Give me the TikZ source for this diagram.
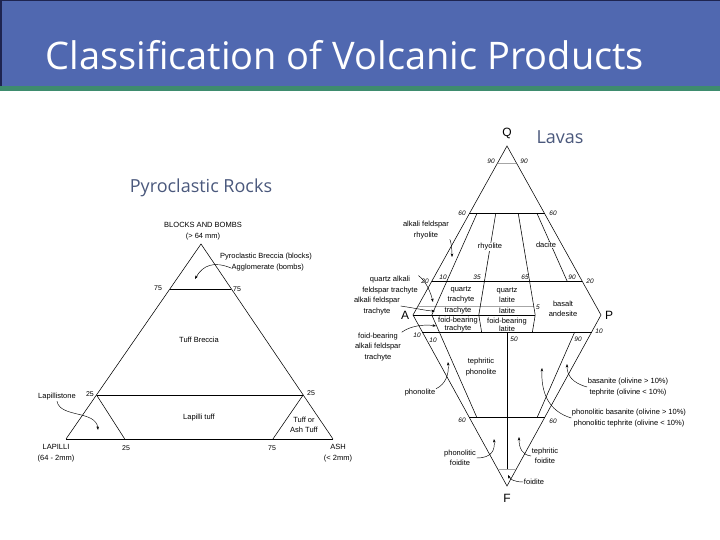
\documentclass[tikz,border=0pt]{standalone}
\usepackage{fontspec}
\setmainfont{Liberation Sans}
\newfontfamily\headfont{Open Sans}
\usetikzlibrary{arrows.meta,calc}

\definecolor{headblue}{RGB}{80,104,176}
\definecolor{headnavy}{RGB}{30,36,80}
\definecolor{headgreen}{RGB}{62,140,110}
\definecolor{subblue}{RGB}{74,88,124}

\tikzset{
    fieldlbl/.style={font=\fontsize{7.5}{10.5}\selectfont, align=center, inner sep=0.5pt},
    tightlbl/.style={fieldlbl, font=\fontsize{7.5}{6.5}\selectfont},
    pyrolbl/.style={font=\fontsize{7.5}{10.5}\selectfont, align=center, inner sep=0.5pt},
    grade/.style={font=\fontsize{6.5}{7}\selectfont\itshape, inner sep=0.5pt},
    pgrade/.style={font=\fontsize{7}{7}\selectfont, inner sep=0.5pt},
    apexlbl/.style={font=\fontsize{12}{12}\selectfont, inner sep=0pt},
    heading/.style={font=\headfont\fontsize{18}{18}\selectfont, text=subblue},
    rim/.style={line width=0.55pt},
    faint/.style={line width=0.45pt, black!35},
    callout/.style={-{Stealth[length=3.5pt,width=2.6pt]}, line width=0.45pt}
}

\begin{document}
\begin{tikzpicture}[x=1pt,y=-1pt]
\useasboundingbox (0,0) rectangle (720,540);

% header bar
\fill[headblue] (0,0) rectangle (720,86);
\fill[headgreen] (0,86) rectangle (720,91);
\draw[headnavy, line width=1.5pt] (0.75,86) -- (0.75,0.75) -- (720,0.75);
\node[anchor=west, text=white, font=\headfont\fontsize{38}{38}\selectfont] (title) at (42,55) {Classification of Volcanic Products};

\node[heading] (lavas) at (560,137) {Lavas};
\node[heading] (pyro) at (201,188) {Pyroclastic Rocks};

% pyroclastic triangle
\coordinate (BB) at (201,244);
\coordinate (LP) at (66,439);
\coordinate (AS) at (333,439);
\coordinate (l75) at ($(LP)!.77!(BB)$);
\coordinate (r75) at ($(AS)!.77!(BB)$);
\coordinate (l25) at ($(LP)!.226!(BB)$);
\coordinate (r25) at ($(AS)!.226!(BB)$);
\draw[rim] (LP) -- (BB) -- (AS);
\draw[line width=1pt] (LP) -- (AS);
\draw[rim] (l75) -- (r75);
\draw[rim] (l25) -- (r25);
\draw[rim] (l25) -- ($(LP)!.22!(AS)$);
\draw[rim] (r25) -- ($(LP)!.775!(AS)$);

\node[pgrade] (n75l) at (158,288) {75};
\node[pgrade] (n75r) at (237,289) {75};
\node[pgrade] (n25l) at (90,394) {25};
\node[pgrade] (n25r) at (311,393) {25};
\node[pgrade] (n25b) at (126,448) {25};
\node[pgrade] (n75b) at (272,448) {75};

\node[pyrolbl] (bnb) at (203,231) {BLOCKS AND BOMBS\\(> 64 mm)};
\node[pyrolbl] (pbr) at (266,257) {Pyroclastic Breccia (blocks)};
\node[pyrolbl, anchor=west] (agg) at (231,268) {Agglomerate (bombs)};
\node[pyrolbl] (tbr) at (199,340) {Tuff Breccia};
\node[pyrolbl] (ltf) at (199,418) {Lapilli tuff};
\node[pyrolbl] (taf) at (304,425) {Tuff or\\Ash Tuff};
\node[pyrolbl] (lst) at (57,397) {Lapillistone};
\node[pyrolbl] (lap) at (56,453) {LAPILLI\\(64 - 2mm)};
\node[pyrolbl] (ash) at (338,453) {ASH\\(< 2mm)};

\coordinate (aggtip) at (195,279);
\coordinate (lsttip) at (98,430);
\draw[callout] (agg.west) .. controls (214,261) and (203,265) .. (aggtip);
\draw[callout] (lst.south) .. controls (60,418) and (96,410) .. (lsttip);

% QAPF diamond
\coordinate (Q) at (507,146);
\coordinate (A) at (413,315);
\coordinate (P) at (601,315);
\coordinate (F) at (507,486);
\coordinate (r10) at ($(A)!.10!(P)$);
\coordinate (r35) at ($(A)!.35!(P)$);
\coordinate (r50) at ($(A)!.50!(P)$);
\coordinate (r65) at ($(A)!.65!(P)$);
\coordinate (r90) at ($(A)!.90!(P)$);

\draw[rim] (A) -- (Q) -- (P) -- (F) -- cycle;
\draw[faint] ($(A)!.9!(Q)$) -- ($(P)!.9!(Q)$);
\draw[rim] ($(A)!.6!(Q)$) -- ($(P)!.6!(Q)$);
\draw[rim] ($(A)!.2!(Q)$) -- ($(P)!.2!(Q)$);
\draw[faint] ($(A)!.05!(Q)$) -- ($(r65)!.05!(Q)$);
\draw[rim] (A) -- (r65);
\draw[rim] ($(A)!.1!(F)$) -- ($(P)!.1!(F)$);
\draw[rim] ($(A)!.6!(F)$) -- ($(P)!.6!(F)$);
\draw[faint] ($(A)!.9!(F)$) -- ($(P)!.9!(F)$);

\draw[rim] ($(r10)!.6!(Q)$) -- (r10) -- ($(r10)!.6!(F)$);
\draw[rim] ($(r35)!.6!(Q)$) -- (r35) -- ($(r35)!.1!(F)$);
\draw[rim] ($(r65)!.6!(Q)$) -- (r65) -- ($(r65)!.1!(F)$);
\draw[rim] ($(r90)!.6!(Q)$) -- ($(r90)!.2!(Q)$);
\draw[rim] ($(r90)!.1!(F)$) -- ($(r90)!.6!(F)$);
\draw[rim] ($(r50)!.1!(F)$) -- ($(r50)!.9!(F)$);

\node[apexlbl] (qlbl) at (507,133) {Q};
\node[apexlbl] (albl) at (405,315) {A};
\node[apexlbl] (plbl) at (609,315) {P};
\node[apexlbl] (flbl) at (507,498) {F};

\node[grade] (g90l) at (491,161) {90};
\node[grade] (g90r) at (524,161) {90};
\node[grade] (g60l) at (462,213) {60};
\node[grade] (g60r) at (553,213) {60};
\node[grade] (g20l) at (425,281) {20};
\node[grade] (g20r) at (590,281) {20};
\node[grade] (g10a) at (443,277) {10};
\node[grade] (g35) at (477,277) {35};
\node[grade] (g65) at (525,277) {65};
\node[grade] (g90a) at (572,277) {90};
\node[grade] (g5) at (538,307) {5};
\node[grade] (g10l) at (417,335) {10};
\node[grade] (g10b) at (433,340) {10};
\node[grade] (g50) at (514,339) {50};
\node[grade] (g90b) at (578,339) {90};
\node[grade] (g10r) at (599,331) {10};
\node[grade] (g60fl) at (462,420) {60};
\node[grade] (g60fr) at (553,421) {60};

\node[fieldlbl, fill=white] (rhy) at (490,247) {rhyolite};
\node[fieldlbl, fill=white] (dac) at (546,245) {dacite};
\node[fieldlbl] (qtr) at (461,295) {quartz\\trachyte};
\node[fieldlbl] (qlt) at (507,295) {quartz\\latite};
\node[fieldlbl] (tra) at (458,311) {trachyte};
\node[fieldlbl] (lat) at (507,311) {latite};
\node[tightlbl] (ftr) at (458,325) {foid-bearing\\trachyte};
\node[tightlbl] (flt) at (507,325) {foid-bearing\\latite};
\node[fieldlbl] (bas) at (563,309) {basalt\\andesite};
\node[fieldlbl] (tph) at (481,367) {tephritic\\phonolite};
\node[fieldlbl] (pho) at (420,393) {phonolite};
\node[fieldlbl] (bst) at (628,387) {basanite (olivine > 10\%)\\tephrite (olivine < 10\%)};
\node[fieldlbl] (pbs) at (629,418) {phonolitic basanite (olivine > 10\%)\\phonolitic tephrite (olivine < 10\%)};
\node[fieldlbl] (tfo) at (545,456) {tephritic\\foidite};
\node[fieldlbl] (pfo) at (460,458) {phonolitic\\foidite};
\node[fieldlbl] (foi) at (534,482) {foidite};
\node[fieldlbl] (afr) at (426,230) {alkali feldspar\\rhyolite};
\node[fieldlbl] (qaf) at (390,285) {quartz alkali\\feldspar trachyte};
\node[fieldlbl] (aft) at (377,306) {alkali feldspar\\trachyte};
\node[fieldlbl] (fat) at (378,347) {foid-bearing\\alkali feldspar\\trachyte};

\coordinate (afrtip) at (452,257);
\coordinate (qaftip) at (433,302);
\coordinate (afttip) at (435,311);
\coordinate (fattip) at (436,326);
\coordinate (photip) at (448,362);
\coordinate (bsttip) at (567,364);
\coordinate (pbstip) at (542,368);
\coordinate (pfotip) at (494,439);
\coordinate (tfotip) at (519,437);
\coordinate (foitip) at (508,475);
\draw[callout] (afr.south east) .. controls (450,238) and (452,246) .. (afrtip);
\draw[callout] (qaf.north east) .. controls (427,282) and (431,294) .. (qaftip);
\draw[callout] (aft.east) .. controls (420,309) and (428,311) .. (afttip);
\draw[callout] (fat.north east) .. controls (410,326) and (424,324) .. (fattip);
\draw[callout] (pho.north east) .. controls (446,384) and (449,374) .. (photip);
\draw[callout] (bst.west) .. controls (572,383) and (567,375) .. (bsttip);
\draw[callout] (pbs.west) .. controls (548,411) and (541,392) .. (pbstip);
\draw[callout] (pfo.east) .. controls (492,458) and (495,450) .. (pfotip);
\draw[callout] (tfo.west) .. controls (522,455) and (519,448) .. (tfotip);
\draw[callout] (foi.west) .. controls (514,482) and (510,479) .. (foitip);
\end{tikzpicture}
\end{document}
